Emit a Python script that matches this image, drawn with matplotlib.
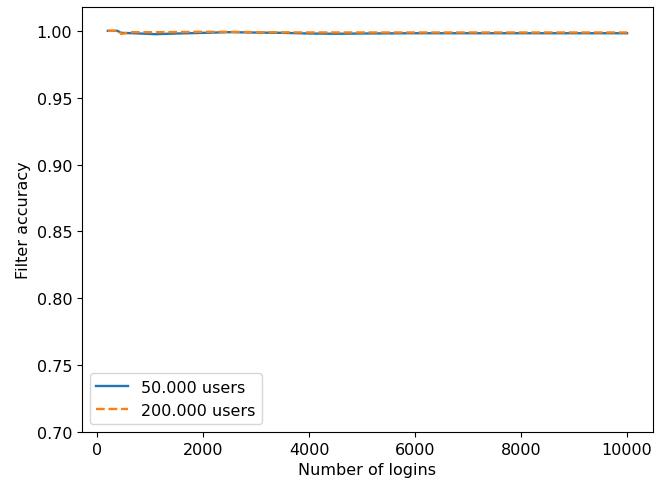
import numpy as np
import matplotlib
matplotlib.use("Agg")
import matplotlib.pyplot as plt

logins_50k = [200, 300, 380, 450, 600, 800, 1100, 1500, 2000, 2500, 3000, 3500, 4000, 4500, 5000, 6000, 7000, 8000, 9000, 10000]
acc_50k = [1.0, 1.0, 1.0, 0.9985, 0.9983, 0.998, 0.9975, 0.998, 0.9985, 0.999, 0.9987, 0.9985, 0.998, 0.9978, 0.998, 0.9982, 0.9982, 0.9982, 0.9982, 0.9982]

logins_200k = [200, 300, 420, 450, 550, 660, 1000, 1500, 2000, 2500, 3000, 4000, 5000, 6000, 7000, 8000, 9000, 10000]
acc_200k = [1.0, 1.0, 1.0, 0.9977, 0.9983, 0.999, 0.999, 0.9991, 0.9993, 0.9993, 0.999, 0.9988, 0.9988, 0.9988, 0.9988, 0.9988, 0.9988, 0.9988]

plt.rcParams["font.size"] = 11.5
plt.rcParams["lines.linewidth"] = 1.7

fig = plt.figure(figsize=(6.55, 4.85), dpi=100)
ax = fig.add_subplot(111)
ax.plot(logins_50k, acc_50k, label="50.000 users")
ax.plot(logins_200k, acc_200k, "--", label="200.000 users")
ax.set_ylim(0.7, 1.018)
ax.set_xlabel("Number of logins")
ax.set_ylabel("Filter accuracy")
ax.legend(loc="lower left")
fig.subplots_adjust(left=0.125, right=0.997, top=0.984, bottom=0.107)
fig.savefig("out.png", dpi=100)
